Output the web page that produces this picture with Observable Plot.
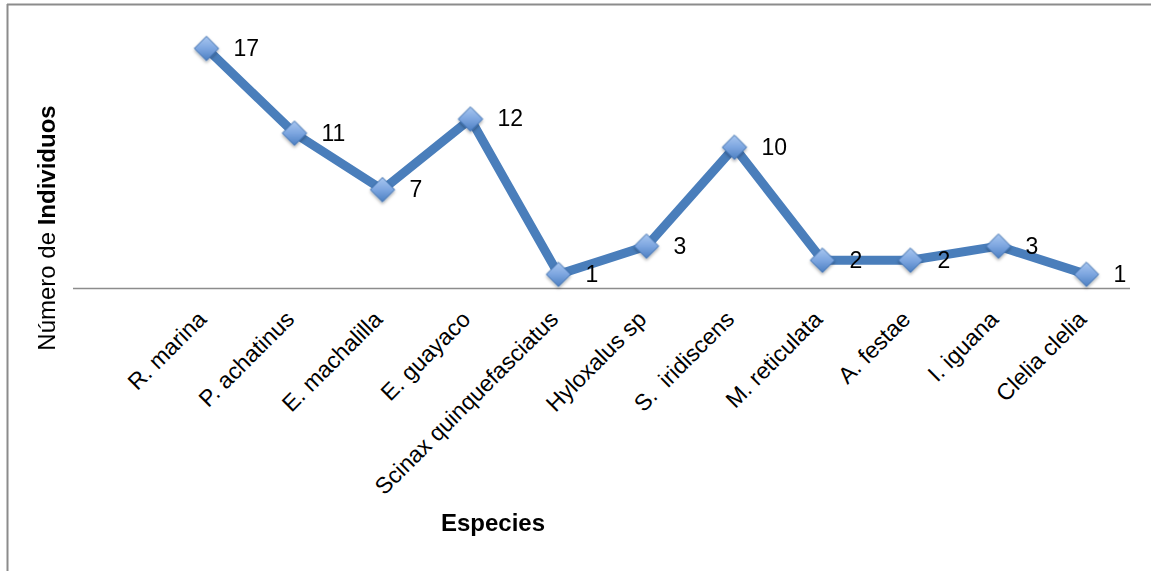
<!DOCTYPE html>
<html>
<head>
<meta charset="utf-8">
<script src="https://cdn.jsdelivr.net/npm/d3@7"></script>
<script src="https://cdn.jsdelivr.net/npm/@observablehq/plot@0.6"></script>
<style>
  html, body { margin: 0; padding: 0; background: #fff; }
  svg text { white-space: pre; }
</style>
</head>
<body>
<div id="chart"></div>
<script>
// Species recorded and number of individuals per species
const species = [
  "R. marina", "P. achatinus", "E. machalilla", "E. guayaco",
  "Scinax quinquefasciatus", "Hyloxalus sp", "S.  iridiscens",
  "M. reticulata", "A. festae", "I. iguana", "Clelia clelia"
];
const counts = [17, 11, 7, 12, 1, 3, 10, 2, 2, 3, 1];

const xTitle = "Especies";
const yTitleRegular = "Número de ";
const yTitleBold = "Individuos";

const data = species.map((s, i) => ({species: s, count: counts[i]}));

const font = "'Liberation Sans', Arial, Helvetica, sans-serif";

const chart = Plot.plot({
  width: 1151,
  height: 571,
  marginLeft: 73,
  marginRight: 21,
  marginTop: 0,
  marginBottom: 0,
  style: {fontFamily: font, background: "#fff", color: "#000"},
  x: {type: "point", domain: species, range: [205, 1087], padding: 0, axis: null},
  y: {domain: [0, 17], range: [288, 48], axis: null},
  marks: [
    Plot.ruleY([0], {stroke: "#8c8c8c", strokeWidth: 1.5}),
    Plot.line(data, {
      x: "species", y: "count",
      stroke: "#4a7ebb", strokeWidth: 9, strokeLinejoin: "round"
    }),
    Plot.dot(data, {
      x: "species", y: "count",
      symbol: "diamond2", r: 11,
      fill: "url(#markerFill)", stroke: "#3d6fae", strokeWidth: 1
    }),
    Plot.text(data, {
      x: "species", y: "count", text: d => String(d.count),
      dx: 27, textAnchor: "start", lineAnchor: "middle",
      fontSize: 23, fill: "#000"
    }),
    // category labels, rotated under the baseline
    Plot.text(species, {
      x: d => d, y: 0, text: d => d,
      rotate: -45, textAnchor: "end", lineAnchor: "middle",
      dx: -4, dy: 27, fontSize: 23, fill: "#000"
    })
  ]
});

const svg = d3.select(chart);

// vertical gradient for the diamond markers, plus a soft shadow
const defs = svg.insert("defs", ":first-child");
const grad = defs.append("linearGradient")
  .attr("id", "markerFill")
  .attr("x1", 0).attr("y1", 0).attr("x2", 0).attr("y2", 1);
grad.append("stop").attr("offset", 0).attr("stop-color", "#a9c7f0");
grad.append("stop").attr("offset", 0.5).attr("stop-color", "#7da6e0");
grad.append("stop").attr("offset", 1).attr("stop-color", "#4c7fc2");
const shadow = defs.append("filter").attr("id", "markerShadow")
  .attr("x", "-50%").attr("y", "-50%").attr("width", "200%").attr("height", "200%");
shadow.append("feDropShadow")
  .attr("dx", 0).attr("dy", 2).attr("stdDeviation", 1.5)
  .attr("flood-color", "#000").attr("flood-opacity", 0.3);
svg.selectAll("g[aria-label='dot']").attr("filter", "url(#markerShadow)");

// chart area border (top and left edges)
svg.append("line")
  .attr("x1", 7).attr("x2", 1151).attr("y1", 4.5).attr("y2", 4.5)
  .attr("stroke", "#8c8c8c").attr("stroke-width", 2);
svg.append("line")
  .attr("x1", 7.5).attr("x2", 7.5).attr("y1", 4).attr("y2", 571)
  .attr("stroke", "#8c8c8c").attr("stroke-width", 2);

// axis titles
svg.append("text")
  .attr("x", 493).attr("y", 531)
  .attr("text-anchor", "middle")
  .attr("font-family", font).attr("font-size", 24).attr("font-weight", "bold")
  .attr("fill", "#000")
  .text(xTitle);

const yt = svg.append("text")
  .attr("transform", "translate(55,228) rotate(-90)")
  .attr("text-anchor", "middle")
  .attr("font-family", font).attr("font-size", 24)
  .attr("fill", "#000");
yt.append("tspan").text(yTitleRegular);
yt.append("tspan").attr("font-weight", "bold").text(yTitleBold);

document.getElementById("chart").appendChild(chart);
</script>
</body>
</html>
